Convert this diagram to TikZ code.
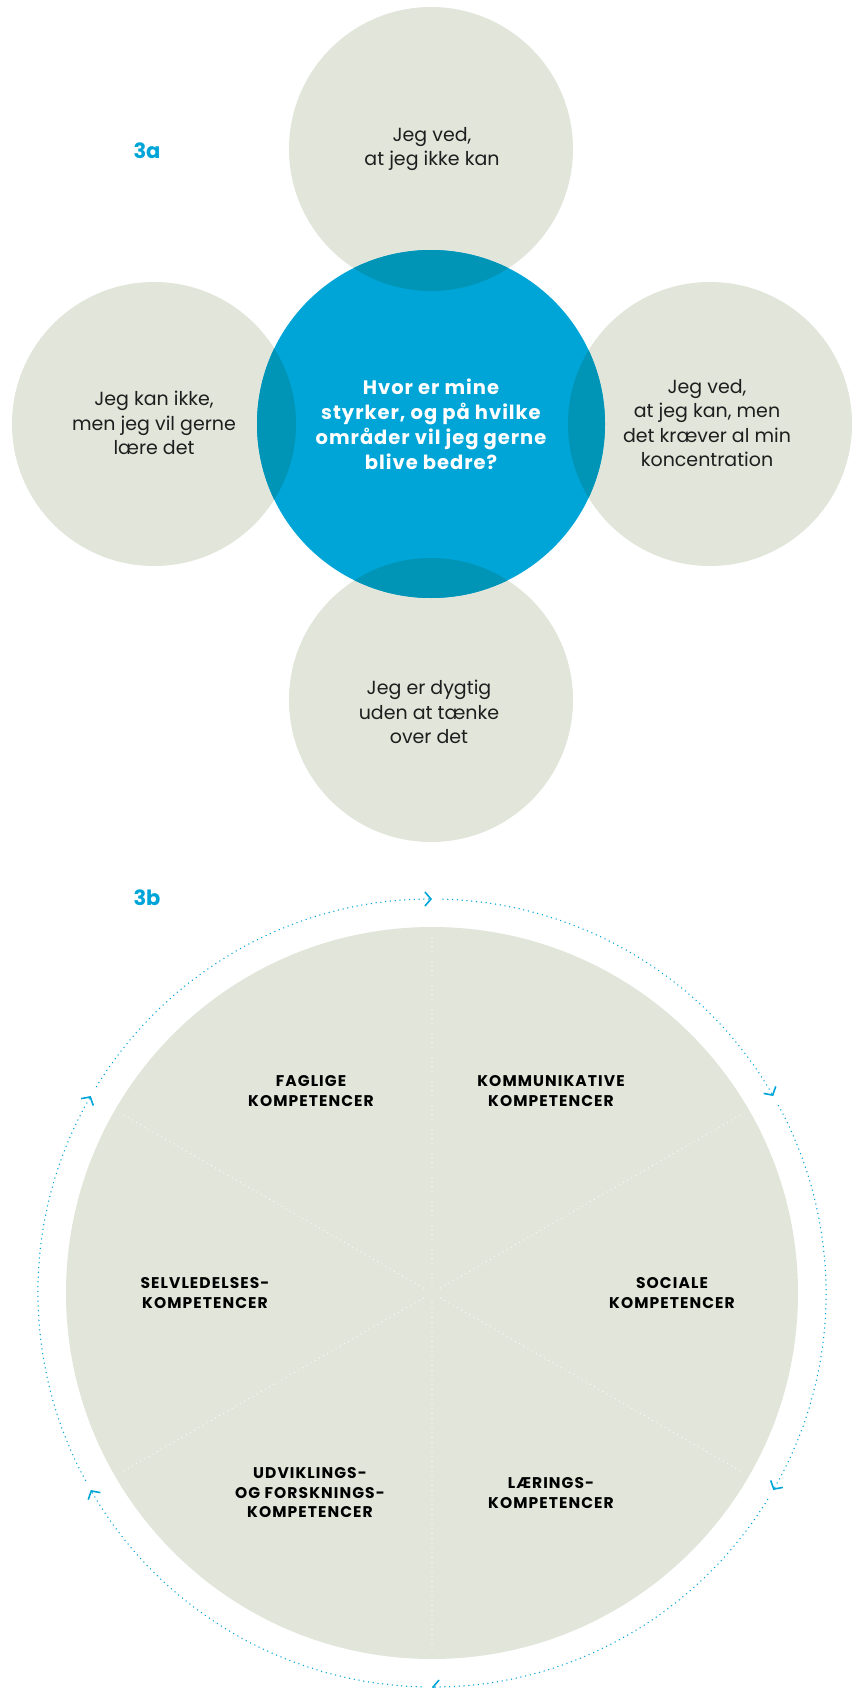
\documentclass[tikz,border=0pt]{standalone}
\usepackage{fontspec}
\setmainfont{Poppins}
\newfontfamily\headfont{Poppins}[LetterSpace=5]
\newfontfamily\capsfont{Poppins}[LetterSpace=7]
\usepackage{xcolor}
\usetikzlibrary{arrows.meta}
\definecolor{sage}{HTML}{E1E5DA}
\definecolor{skyblue}{HTML}{00A5D8}
\definecolor{deepblue}{HTML}{0094B6}
\definecolor{ink}{HTML}{1E1E1E}

\begin{document}
\begin{tikzpicture}[x=1pt, y=1pt,
    sagecircle/.style={circle, fill=sage, minimum size=284pt, inner sep=0pt},
    circletext/.style={align=center, text=ink, font=\fontsize{19}{24.5}\selectfont},
    headtext/.style={align=center, text=white, font=\headfont\fontsize{19.5}{25}\selectfont\bfseries},
    comptext/.style={align=center, text=black, font=\capsfont\fontsize{15.5}{19.5}\selectfont\bfseries},
    tagtext/.style={text=skyblue, font=\fontsize{21}{21}\selectfont\bfseries},
    ring/.style={skyblue, line width=1.5pt, line cap=round, dash pattern=on 0pt off 4.8pt},
    divider/.style={white, line width=1.2pt, line cap=round, dash pattern=on 0pt off 4.8pt}]
    \useasboundingbox (0,0) rectangle (854,-1688);

    % 3a
    \node[tagtext] (tagA) at (147,-151) {3a};
    \node[sagecircle] (know) at (431,-149) {};
    \node[sagecircle] (learn) at (154,-424) {};
    \node[sagecircle] (focus) at (710,-424) {};
    \node[sagecircle] (skilled) at (431,-700) {};
    \node[circle, fill=skyblue, minimum size=348pt, inner sep=0pt] (core) at (431,-424) {};
    \foreach \c in {know,learn,focus,skilled}{
        \begin{scope}
            \clip (\c.center) circle (142);
            \fill[deepblue] (core.center) circle (174);
        \end{scope}
    }
    \node[circletext] (knowtext) at (432,-149) {Jeg ved,\\at jeg ikke kan};
    \node[circletext] (learntext) at (154,-423) {Jeg kan ikke,\\men jeg vil gerne\\lære det};
    \node[circletext] (focustext) at (707,-423) {Jeg ved,\\at jeg kan, men\\det kræver al min\\koncentration};
    \node[circletext] (skilledtext) at (429,-712) {Jeg er dygtig\\uden at tænke\\over det};
    \node[headtext] (coretext) at (431,-424) {Hvor er mine\\styrker, og på hvilke\\områder vil jeg gerne\\blive bedre?};

    % 3b
    \node[tagtext] (tagB) at (147,-898) {3b};
    \node[circle, fill=sage, minimum size=732pt, inner sep=0pt] (wheel) at (432,-1293) {};
    \foreach \a in {90,30,...,-210}
        \draw[divider] ([shift={(\a:10)}]wheel.center) -- ([shift={(\a:357)}]wheel.center);
    \foreach \a [evaluate=\a as \b using \a+58.4] in {90,30,...,-210}
        \draw[ring, -{Straight Barb[length=6pt, width=14pt, line width=1.6pt]}]
            ([shift={(\b:394)}]wheel.center) arc[start angle=\b, end angle=\a, radius=394];

    \node[comptext] (faglige) at (311,-1091) {FAGLIGE\\KOMPETENCER};
    \node[comptext] (kommunikative) at (551,-1091) {KOMMUNIKATIVE\\KOMPETENCER};
    \node[comptext] (selvledelse) at (205,-1293) {SELVLEDELSES-\\KOMPETENCER};
    \node[comptext] (sociale) at (672,-1293) {SOCIALE\\KOMPETENCER};
    \node[comptext] (udvikling) at (310,-1493) {UDVIKLINGS-\\OG FORSKNINGS-\\KOMPETENCER};
    \node[comptext] (laering) at (551,-1493) {LÆRINGS-\\KOMPETENCER};
\end{tikzpicture}
\end{document}
